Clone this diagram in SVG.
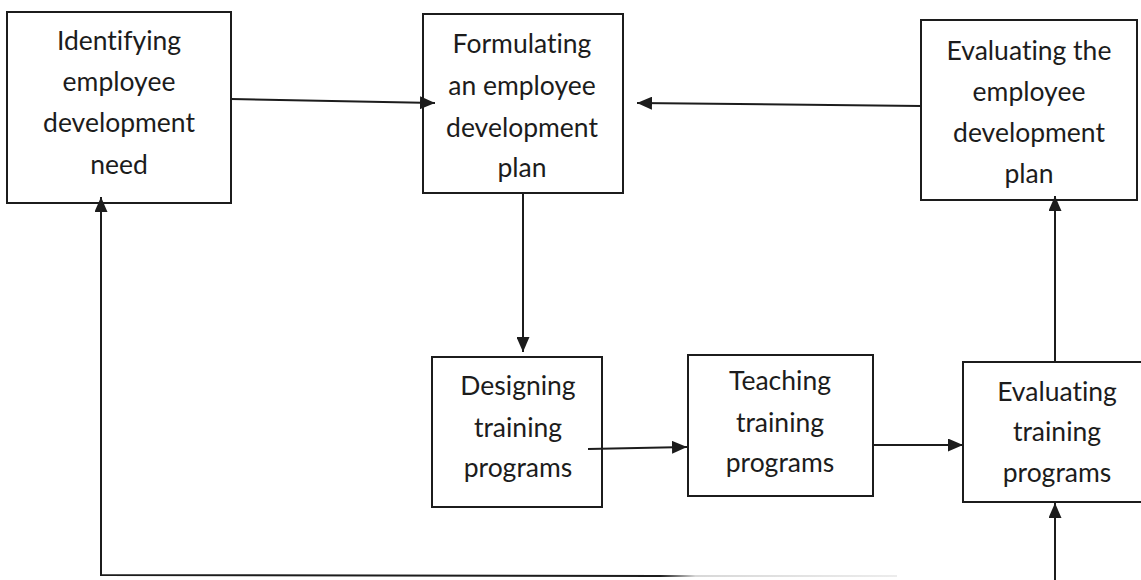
<svg xmlns="http://www.w3.org/2000/svg" width="1141" height="580" viewBox="0 0 1141 580">
<style>
.box{fill:#fff;stroke:#1c1c1c;stroke-width:2}
.lbl{font-family:Lato,"Open Sans","Liberation Sans",sans-serif;font-size:26.5px;fill:#1c1c1c;text-anchor:middle;font-variant-ligatures:none;font-feature-settings:"liga" 0}
.con{fill:none;stroke:#1c1c1c;stroke-width:2}
</style>
<defs>
<marker id="ah" viewBox="0 0 15 13" refX="15" refY="6.5" markerWidth="15" markerHeight="13" markerUnits="userSpaceOnUse" orient="auto">
<path d="M0,0 L15,6.5 L0,13 z" fill="#1c1c1c"/>
</marker>
<linearGradient id="fade" x1="0" y1="0" x2="1" y2="0">
<stop offset="0" stop-color="#1c1c1c"/>
<stop offset="0.15" stop-color="#d8d8d8"/>
<stop offset="1" stop-color="#ececec"/>
</linearGradient>
</defs>
<rect width="1141" height="580" fill="#fff"/>
<g id="n1">
<rect class="box" x="7" y="12" width="224" height="191"/>
<text class="lbl" x="119" y="50">Identifying</text>
<text class="lbl" x="119" y="91">employee</text>
<text class="lbl" x="119" y="132">development</text>
<text class="lbl" x="119" y="174">need</text>
</g>
<g id="n2">
<rect class="box" x="423" y="14" width="200" height="179"/>
<text class="lbl" x="522" y="53">Formulating</text>
<text class="lbl" x="522" y="95">an employee</text>
<text class="lbl" x="522" y="137">development</text>
<text class="lbl" x="522" y="177">plan</text>
</g>
<g id="n3">
<rect class="box" x="921" y="20" width="216" height="180"/>
<text class="lbl" x="1029" y="60">Evaluating the</text>
<text class="lbl" x="1029" y="101">employee</text>
<text class="lbl" x="1029" y="142">development</text>
<text class="lbl" x="1029" y="183">plan</text>
</g>
<g id="n4">
<rect class="box" x="432" y="357" width="170" height="150"/>
<text class="lbl" x="518" y="395">Designing</text>
<text class="lbl" x="518" y="437">training</text>
<text class="lbl" x="518" y="477">programs</text>
</g>
<g id="n5">
<rect class="box" x="688" y="355" width="185" height="141"/>
<text class="lbl" x="780" y="390">Teaching</text>
<text class="lbl" x="780" y="432">training</text>
<text class="lbl" x="780" y="472">programs</text>
</g>
<g id="n6">
<rect class="box" x="963" y="362" width="179" height="140"/>
<text class="lbl" x="1057" y="401">Evaluating</text>
<text class="lbl" x="1057" y="441">training</text>
<text class="lbl" x="1057" y="482">programs</text>
</g>
<g id="connectors">
<path class="con" d="M231,99 L435,103" marker-end="url(#ah)"/>
<path class="con" d="M921,106 L637,103" marker-end="url(#ah)"/>
<path class="con" d="M523,193 L523,352" marker-end="url(#ah)"/>
<path class="con" d="M588,449 L687,447" marker-end="url(#ah)"/>
<path class="con" d="M873,445 L963,445" marker-end="url(#ah)"/>
<path class="con" d="M1055,362 L1055,196" marker-end="url(#ah)"/>
<path class="con" d="M1055,580 L1055,503" marker-end="url(#ah)"/>
<path class="con" d="M660,576 L101,575 L101,197" marker-end="url(#ah)"/>
<rect x="660" y="575" width="237" height="2" fill="url(#fade)"/>
</g>
</svg>
